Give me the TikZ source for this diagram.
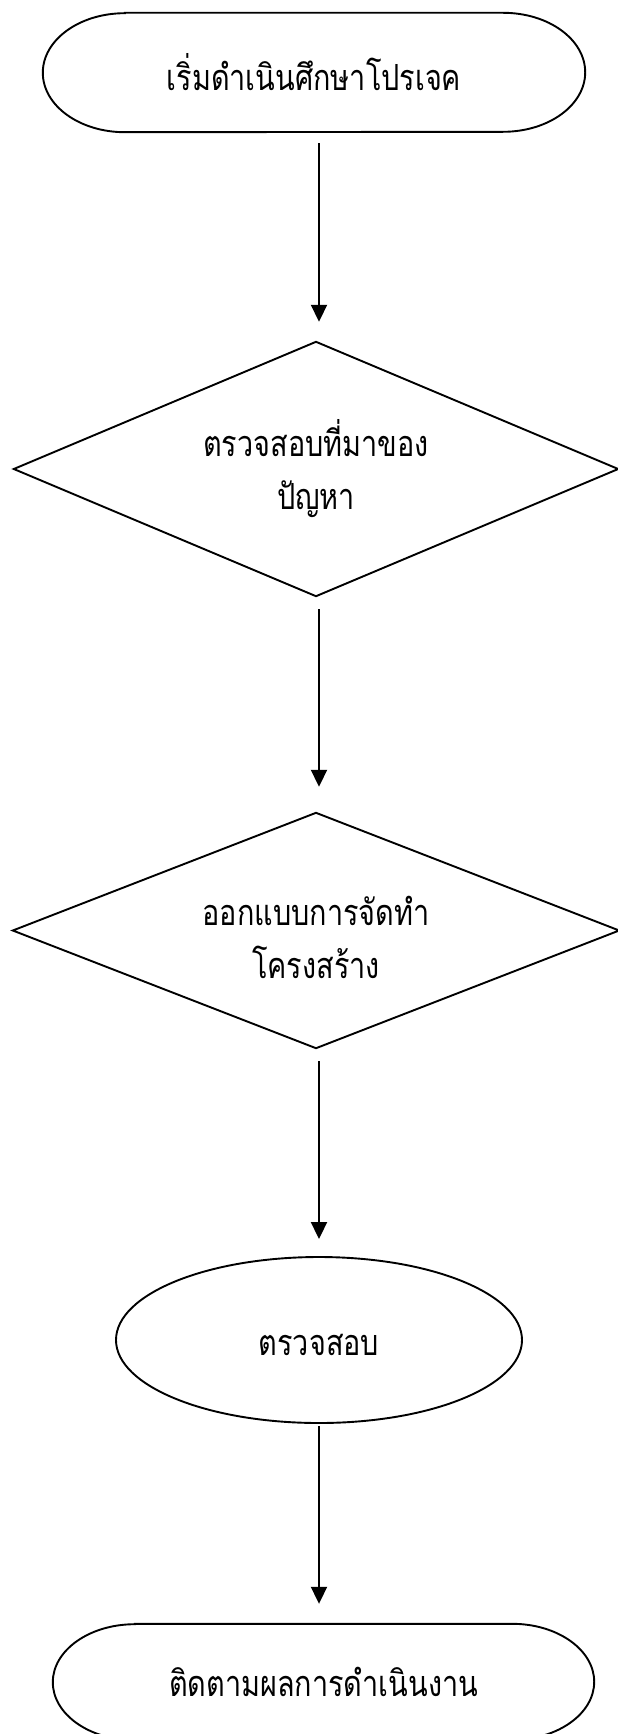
\documentclass[tikz,border=0pt]{standalone}
\usepackage{fontspec}
\newfontfamily\thaifont[Script=Thai,FakeStretch=0.8]{Loma}
\usetikzlibrary{arrows.meta,shapes.geometric}
\tikzset{
  outline/.style={line width=1.9pt, line join=miter},
  txt/.style={font=\thaifont\fontsize{36}{53}\selectfont},
  shapebox/.style={rectangle, draw=none, inner sep=0pt, align=center, txt},
  label/.style={inner sep=0pt, align=center, txt},
  ovalbox/.style={ellipse, draw, line width=1.9pt, inner sep=0pt},
  arr/.style={line width=1.9pt, -{Triangle[length=17pt,width=16pt]}}
}
\begin{document}
\begin{tikzpicture}[x=1pt,y=-1pt]
\useasboundingbox (0,0) rectangle (618,1734);
% nodes
\node[shapebox, minimum width=542pt, minimum height=119pt] (start) at (314,72.5) {เริ่มดำเนินศึกษาโปรเจค};
\node[shapebox, minimum width=604pt, minimum height=254pt] (d1) at (316,469) {ตรวจสอบที่มาของ\\ปัญหา};
\node[shapebox, minimum width=606pt, minimum height=235pt] (d2) at (316,930.5) {};
\node[label] (d2t) at (316,937) {ออกแบบการจัดทำ\\โครงสร้าง};
\node[ovalbox, minimum width=406pt, minimum height=166pt] (chk) at (319,1340) {};
\node[label] (chkt) at (319,1345) {ตรวจสอบ};
\node[shapebox, minimum width=541pt, minimum height=116pt] (finish) at (323.5,1682) {ติดตามผลการดำเนินงาน};
% terminal outlines
\draw[outline] ([xshift=82pt]start.north west) -- ([xshift=-82pt]start.north east)
  arc[start angle=90, end angle=-90, x radius=82pt, y radius=59.5pt]
  -- ([xshift=82pt]start.south west)
  arc[start angle=270, end angle=90, x radius=82pt, y radius=59.5pt] -- cycle;
\draw[outline] ([xshift=82pt]finish.north west) -- ([xshift=-82pt]finish.north east)
  arc[start angle=90, end angle=-90, x radius=82pt, y radius=58pt]
  -- ([xshift=82pt]finish.south west)
  arc[start angle=270, end angle=90, x radius=82pt, y radius=58pt] -- cycle;
% diamonds
\draw[outline] (d1.north) -- (d1.east) -- (d1.south) -- (d1.west) -- cycle;
\draw[outline] (d2.north) -- (d2.east) -- (d2.south) -- (d2.west) -- cycle;
% connectors
\draw[arr, shorten <=11pt, shorten >=20pt] (start.south -| chk) -- (d1.north -| chk);
\draw[arr, shorten <=13pt, shorten >=26pt] (d1.south -| chk) -- (d2.north -| chk);
\draw[arr, shorten <=13pt, shorten >=17pt] (d2.south -| chk) -- (chk.north);
\draw[arr, shorten <=2pt, shorten >=20pt] (chk.south) -- (finish.north -| chk);
\end{tikzpicture}
\end{document}
